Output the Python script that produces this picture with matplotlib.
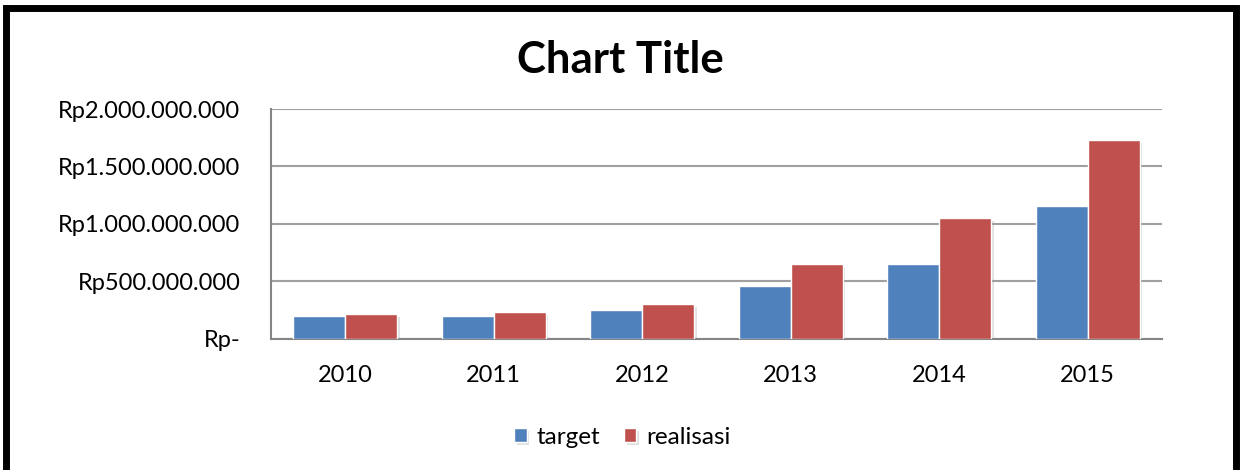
import numpy as np
import matplotlib
matplotlib.use("Agg")
from matplotlib import pyplot as plt
from matplotlib import patheffects as pe
from matplotlib.patches import Rectangle
from matplotlib.ticker import FuncFormatter

# data
years = ["2010", "2011", "2012", "2013", "2014", "2015"]
target = [200e6, 200e6, 252e6, 458e6, 650e6, 1154e6]
realisasi = [215e6, 235e6, 300e6, 650e6, 1050e6, 1728e6]
y_ticks = [0, 500e6, 1000e6, 1500e6, 2000e6]

BLUE = "#4F81BD"
RED = "#C0504D"

plt.rcParams["font.family"] = ["Lato", "DejaVu Sans"]


def rupiah(v, pos):
    if v == 0:
        return "Rp-"
    return "Rp" + f"{int(v):,}".replace(",", ".")


fig = plt.figure(figsize=(12.4, 4.7), dpi=100)
ax = fig.add_axes([0.2185, 0.279, 0.7185, 0.489])

x = np.arange(len(years))
w = 0.35
shadow = [pe.SimplePatchShadow(offset=(2, -2), shadow_rgbFace="#888888", alpha=0.25), pe.Normal()]
b1 = ax.bar(x - w / 2, target, w, color=BLUE, edgecolor="white", linewidth=1, label="target", zorder=3)
b2 = ax.bar(x + w / 2, realisasi, w, color=RED, edgecolor="white", linewidth=1, label="realisasi", zorder=3)
for b in list(b1) + list(b2):
    b.set_path_effects(shadow)

ax.set_xlim(-0.5, len(years) - 0.5)
ax.set_ylim(0, 2000e6)
ax.set_yticks(y_ticks)
ax.yaxis.set_major_formatter(FuncFormatter(rupiah))
ax.set_xticks(x)
ax.set_xticklabels(years)
ax.grid(axis="y", color="#a0a0a0", linewidth=1.5, zorder=0)
ax.tick_params(axis="x", length=0, pad=19, labelsize=17)
ax.tick_params(axis="y", length=0, pad=22, labelsize=17)
for s in ["top", "right"]:
    ax.spines[s].set_visible(False)
for s in ["left", "bottom"]:
    ax.spines[s].set_color("#858585")
    ax.spines[s].set_linewidth(1.5)

fig.text(0.5, 0.873, "Chart Title", ha="center", va="center", fontsize=31.5, fontweight="bold")

fig.legend(handles=[b1, b2], labels=["target", "realisasi"], loc="center",
           bbox_to_anchor=(0.502, 0.07), ncol=2, frameon=False, fontsize=17.5,
           handlelength=0.5, handleheight=0.5, handletextpad=0.4, columnspacing=1.0)

# outer black frame
fig.patches.append(Rectangle((6 / 1240, -0.05), 1230 / 1240, 0.05 + 462 / 470,
                             transform=fig.transFigure, fill=False, edgecolor="black",
                             linewidth=5, zorder=10))

fig.savefig("out.png", dpi=100)
